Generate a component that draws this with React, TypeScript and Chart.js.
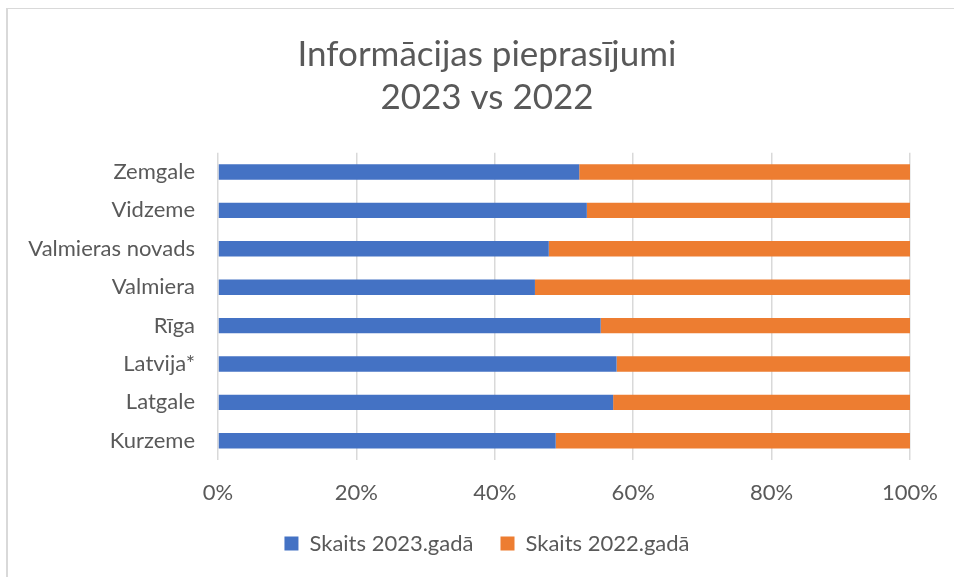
import { useEffect, useRef } from 'react';
import { Chart, registerables } from 'chart.js';

Chart.register(...registerables);

const categories = ['Zemgale', 'Vidzeme', 'Valmieras novads', 'Valmiera', 'Rīga', 'Latvija*', 'Latgale', 'Kurzeme'];
const share2023 = [52.2, 53.3, 47.8, 45.8, 55.3, 57.6, 57.1, 48.8];
const share2022 = [47.8, 46.7, 52.2, 54.2, 44.7, 42.4, 42.9, 51.2];
const seriesNames = ['Skaits 2023.gadā', 'Skaits 2022.gadā'];
const seriesColors = ['#4472C4', '#ED7D31'];
const titleLines = ['Informācijas pieprasījumi', '2023 vs 2022'];
const xTicks = [0, 20, 40, 60, 80, 100];

const FONT = 'Lato';
const TEXT = '#595959';

// shifts the centred title and legend so they are centred on the whole chart frame
const centerShift = {
  id: 'centerShift',
  afterLayout(chart: any) {
    if (chart.titleBlock) chart.titleBlock.left += 56;
    if (chart.legend) chart.legend.left += 56;
  },
};

export default function App() {
  const ref = useRef<HTMLCanvasElement | null>(null);

  useEffect(() => {
    if (!ref.current) return;
    const chart = new Chart(ref.current, {
      type: 'bar',
      data: {
        labels: categories,
        datasets: [
          { label: seriesNames[0], data: share2023, backgroundColor: seriesColors[0], borderWidth: 0, barPercentage: 1, categoryPercentage: 0.4 },
          { label: seriesNames[1], data: share2022, backgroundColor: seriesColors[1], borderWidth: 0, barPercentage: 1, categoryPercentage: 0.4 },
        ],
      },
      options: {
        indexAxis: 'y',
        responsive: true,
        maintainAspectRatio: false,
        animation: false,
        layout: { padding: { left: 0, right: 44, top: 0, bottom: 12.5 } },
        scales: {
          x: {
            stacked: true,
            min: 0,
            max: 100,
            afterBuildTicks: (s: any) => {
              s.ticks = xTicks.map((v) => ({ value: v }));
            },
            ticks: {
              callback: (v: any) => v + '%',
              color: TEXT,
              font: { family: FONT, size: 22 },
              padding: 20,
              maxRotation: 0,
            },
            grid: { color: '#d9d9d9', lineWidth: 1.5, drawTicks: false },
            border: { display: false },
            afterFit: (s: any) => {
              s.height = 45.5;
              s.paddingRight = 0;
              s.paddingLeft = 0;
            },
          },
          y: {
            stacked: true,
            ticks: { color: TEXT, font: { family: FONT, size: 22 }, padding: 23 },
            grid: { display: false, drawTicks: false },
            border: { display: false },
            afterFit: (s: any) => {
              s.width = 210;
            },
          },
        },
        plugins: {
          title: {
            display: true,
            text: titleLines,
            color: TEXT,
            font: { family: FONT, size: 35, weight: 'normal', lineHeight: 1.24 },
            padding: { top: 24, bottom: 33 },
          },
          legend: {
            position: 'bottom',
            labels: {
              boxWidth: 14,
              boxHeight: 14,
              padding: 27,
              color: TEXT,
              font: { family: FONT, size: 22 },
            },
          },
          tooltip: { enabled: false },
        },
      },
      plugins: [centerShift],
    });
    return () => chart.destroy();
  }, []);

  return (
    <div
      style={{
        position: 'absolute',
        left: 6,
        top: 8,
        width: 948,
        height: 569,
        boxSizing: 'border-box',
        borderLeft: '2px solid #d9d9d9',
        borderTop: '1px solid #d9d9d9',
        background: '#fff',
      }}
    >
      <canvas ref={ref} />
    </div>
  );
}
